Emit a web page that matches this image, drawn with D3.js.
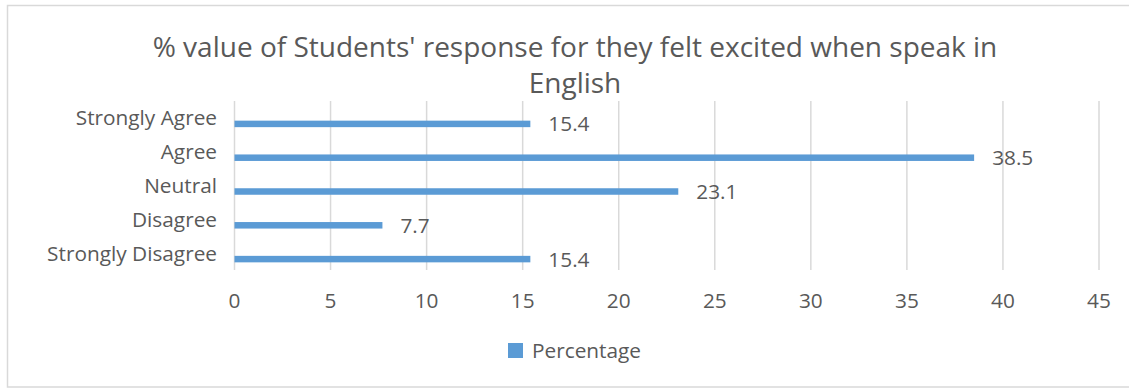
<!DOCTYPE html>
<html><head><meta charset="utf-8">
<script src="https://cdn.jsdelivr.net/npm/d3@7"></script>
<style>body{margin:0;background:#fff}svg{display:block}</style>
</head><body>
<svg id="c" width="1129" height="388"></svg>
<script>
const categories = ["Strongly Agree","Agree","Neutral","Disagree","Strongly Disagree"];
const values = [15.4, 38.5, 23.1, 7.7, 15.4];
const xTicks = [0,5,10,15,20,25,30,35,40,45];
const titleLines = ["% value of Students' response for they felt excited when speak in","English"];
const seriesName = "Percentage";

const FONT = "'Open Sans', Lato, sans-serif";
const TXT = "#595959", BAR = "#5B9BD5", GRID = "#D9D9D9";
const FS = 20.8;
const svg = d3.select("#c");
svg.append("rect").attr("x",7.5).attr("y",5.5).attr("width",1130).attr("height",381.5)
  .attr("fill","#fff").attr("stroke","#D9D9D9").attr("stroke-width",1.5);

const x = d3.scaleLinear().domain([0,45]).range([234.5,1099]);
const y = d3.scaleBand().domain(categories).range([101,270]);

// gridlines
svg.append("g").selectAll("line").data(xTicks).join("line")
  .attr("x1",d=>x(d)).attr("x2",d=>x(d)).attr("y1",101).attr("y2",270)
  .attr("stroke",GRID).attr("stroke-width",1.5);

// tick labels
svg.append("g").selectAll("text").data(xTicks).join("text")
  .attr("x",d=>x(d)).attr("y",308).attr("text-anchor","middle")
  .attr("font-family",FONT).attr("font-size",FS).attr("fill",TXT).text(d=>d);

// category labels
svg.append("g").selectAll("text").data(categories).join("text")
  .attr("x",217).attr("y",d=>y(d)+y.bandwidth()/2+7.5).attr("text-anchor","end")
  .attr("font-family",FONT).attr("font-size",FS).attr("fill",TXT).text(d=>d);

// bars
const bh = 6.5, off = 6;
svg.append("g").selectAll("rect").data(values).join("rect")
  .attr("x",x(0)).attr("y",(d,i)=>y(categories[i])+y.bandwidth()/2+off-bh/2)
  .attr("width",d=>x(d)-x(0)).attr("height",bh).attr("fill",BAR);

// value labels
svg.append("g").selectAll("text").data(values).join("text")
  .attr("x",d=>x(d)+18).attr("y",(d,i)=>y(categories[i])+y.bandwidth()/2+off+7.5)
  .attr("font-family",FONT).attr("font-size",FS).attr("fill",TXT).text(d=>d.toFixed(1));

// title
svg.append("g").selectAll("text").data(titleLines).join("text")
  .attr("x",575).attr("y",(d,i)=>57+i*36).attr("text-anchor","middle")
  .attr("font-family",FONT).attr("font-size",28).attr("fill",TXT).text(d=>d);

// legend
svg.append("rect").attr("x",508).attr("y",343).attr("width",15).attr("height",15).attr("fill",BAR);
svg.append("text").attr("x",532).attr("y",358).attr("font-family",FONT).attr("font-size",FS)
  .attr("fill",TXT).text(seriesName);
</script>
</body></html>
